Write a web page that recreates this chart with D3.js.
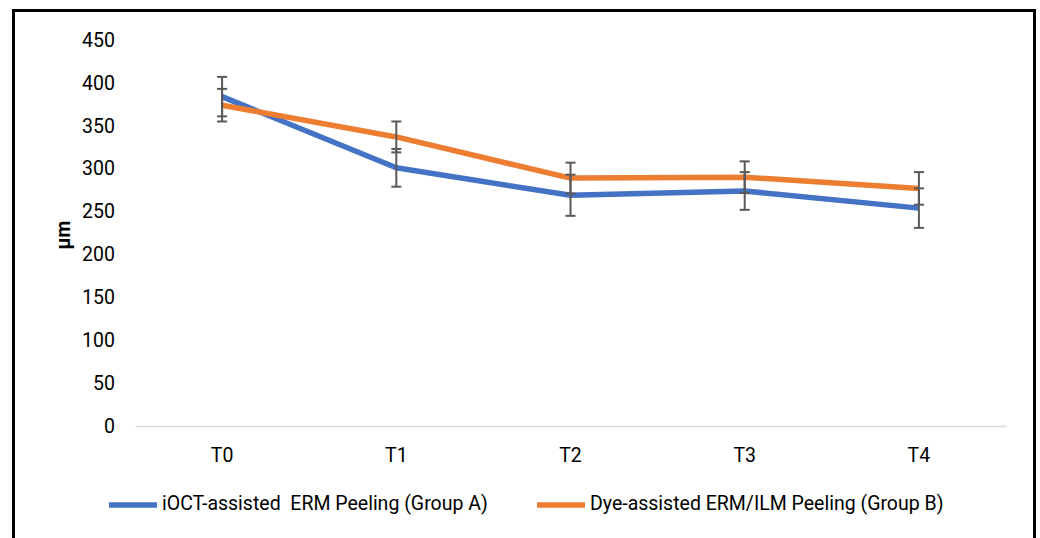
<!DOCTYPE html>
<html lang="en">
<head>
<meta charset="UTF-8">
<title>Thickness over time</title>
<script src="https://d3js.org/d3.v7.min.js"></script>
<style>
 body {margin: 0; padding: 0; background: #fff;}
 svg {display: block;}
 text {font-family: Roboto, "Noto Sans", sans-serif; fill: #000;}
 .tick text {font-size: 19.5px;}
 .legend text {font-size: 19.5px;}
</style>
</head>
<body>
<svg id="chart" width="1040" height="538"></svg>
<script>
// data
const categories = ['T0', 'T1', 'T2', 'T3', 'T4'];
const groupA = [384, 301, 269, 274, 254];
const groupAErr = [23, 22, 24, 22, 23];
const groupB = [374, 337, 289, 290, 277];
const groupBErr = [19, 18, 18, 18.5, 19];
const yTicks = [0, 50, 100, 150, 200, 250, 300, 350, 400, 450];

const series = [
 {name: 'iOCT-assisted\u00a0 ERM Peeling (Group A)', values: groupA, err: groupAErr, color: '#4472C4'},
 {name: 'Dye-assisted ERM/ILM Peeling (Group B)', values: groupB, err: groupBErr, color: '#ED7D31'}
];

const svg = d3.select('#chart');

// outer frame
svg.append('rect')
 .attr('x', 13.5).attr('y', 10.5)
 .attr('width', 1021).attr('height', 600)
 .attr('fill', 'none').attr('stroke', '#000').attr('stroke-width', 3);

const x = d3.scaleBand().domain(categories).range([135, 1006]);
const y = d3.scaleLinear().domain([0, 450]).range([426, 40]);

// y axis, labels only
const yAxis = svg.append('g')
 .attr('transform', 'translate(122,0)')
 .call(d3.axisLeft(y).tickValues(yTicks).tickSize(0).tickPadding(7));
yAxis.select('.domain').remove();

// x axis line + labels
const xAxis = svg.append('g')
 .attr('transform', `translate(0,${y(0)})`)
 .call(d3.axisBottom(x).tickSize(0).tickPadding(22));
xAxis.select('.domain').attr('stroke', '#d9d9d9').attr('stroke-width', 1.5);

svg.append('text')
 .attr('transform', 'translate(65,235) rotate(-90)')
 .attr('text-anchor', 'middle')
 .attr('dominant-baseline', 'middle')
 .style('font-size', '19.5px')
 .style('font-weight', 'bold')
 .text('μm');

const cx = c => x(c) + x.bandwidth() / 2;

const line = d3.line()
 .x((d, i) => cx(categories[i]))
 .y(d => y(d));

series.forEach(s => {
 svg.append('path')
  .datum(s.values)
  .attr('fill', 'none')
  .attr('stroke', s.color)
  .attr('stroke-width', 5.5)
  .attr('stroke-linejoin', 'round')
  .attr('d', line);
});

// error bars on top
series.forEach(s => {
 const g = svg.append('g').attr('stroke', '#595959').attr('stroke-width', 2);
 s.values.forEach((v, i) => {
  const px = cx(categories[i]);
  const top = y(v + s.err[i]), bot = y(v - s.err[i]);
  g.append('line').attr('x1', px).attr('x2', px).attr('y1', top).attr('y2', bot);
  g.append('line').attr('x1', px - 5).attr('x2', px + 5).attr('y1', top).attr('y2', top);
  g.append('line').attr('x1', px - 5).attr('x2', px + 5).attr('y1', bot).attr('y2', bot);
 });
});

// legend
const legendX = [109, 537];
const legend = svg.append('g').attr('class', 'legend');
series.forEach((s, i) => {
 legend.append('line')
  .attr('x1', legendX[i]).attr('x2', legendX[i] + 48)
  .attr('y1', 505).attr('y2', 505)
  .attr('stroke', s.color).attr('stroke-width', 5.5);
 legend.append('text')
  .attr('x', legendX[i] + 53).attr('y', 505)
  .attr('dominant-baseline', 'middle')
  .text(s.name);
});
</script>
</body>
</html>
